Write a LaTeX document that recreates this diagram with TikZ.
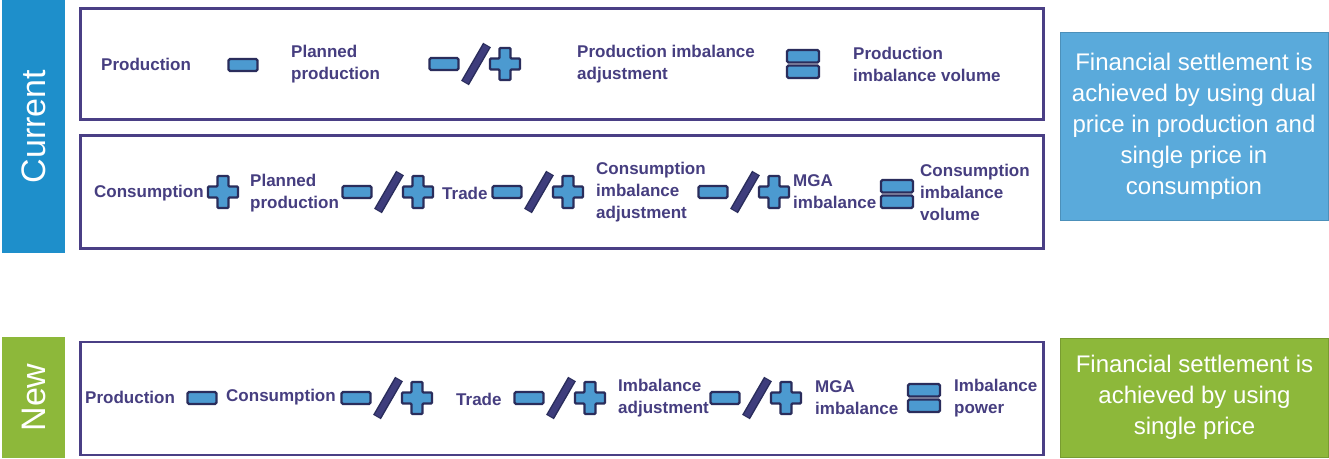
\documentclass[tikz,border=0pt]{standalone}
\usepackage{fontspec}
\setmainfont{Liberation Sans}
\usepackage{xcolor}
\usetikzlibrary{positioning}

\definecolor{txtpurple}{HTML}{463E80}
\definecolor{rowpurple}{HTML}{4A3F85}
\definecolor{curblue}{HTML}{1E8FCB}
\definecolor{noteblue}{HTML}{5AAADB}
\definecolor{newgreen}{HTML}{8DB83A}
\definecolor{symblue}{HTML}{4C9AD0}
\definecolor{symdark}{HTML}{2A2D5C}
\definecolor{slashcol}{HTML}{3E3D7C}

\tikzset{
  symline/.style={draw=symdark,fill=symblue,line width=2.2pt},
  minussign/.pic={\draw[symline,rounded corners=1.5pt] (-14.5,-6) rectangle (14.5,6);},
  plussign/.pic={\draw[symline,rounded corners=1pt] (-5.5,-16) -- (5.5,-16) -- (5.5,-5.5) -- (15,-5.5) -- (15,5.5) -- (5.5,5.5) -- (5.5,16) -- (-5.5,16) -- (-5.5,5.5) -- (-15,5.5) -- (-15,-5.5) -- (-5.5,-5.5) -- cycle;},
  slashsign/.pic={\draw[line width=9pt,symdark] (-11,19) -- (11,-19);
                  \draw[line width=6pt,slashcol] (-10.5,18) -- (10.5,-18);},
  eqsign/.pic={\draw[symline,rounded corners=1.5pt] (-16,-14) rectangle (16,-1.5);
               \draw[symline,rounded corners=1.5pt] (-16,1.5) rectangle (16,14);},
  pmsign/.pic={\pic at (-32,0) {minussign}; \pic at (0,0) {slashsign}; \pic at (29,0) {plussign};}
}

\begin{document}
\begin{tikzpicture}[x=1pt,y=-1pt,
  term/.style={anchor=west,align=left,inner sep=0pt,text=txtpurple,font=\bfseries\fontsize{17}{22}\selectfont},
  rowbox/.style={draw=rowpurple,line width=2.5pt,fill=white,minimum width=963pt},
  tagbox/.style={rotate=90,text=white,inner sep=0pt,minimum width=#1,minimum height=63pt,font=\fontsize{34}{36}\selectfont},
  notebox/.style={draw=#1!85!black,line width=0.6pt,fill=#1,text=white,align=center,minimum width=268pt,inner sep=0pt,font=\fontsize{24}{31}\selectfont}]
\useasboundingbox (0,0) rectangle (1329,458);

% left tags
\node[tagbox=253pt,fill=curblue] (curtag) at (33.5,126.5) {Current};
\node[tagbox=121pt,fill=newgreen] (newtag) at (33.5,397.5) {New};

% row frames
\node[rowbox,minimum height=111pt] (prodrow) at (562,64) {};
\node[rowbox,minimum height=113pt] (consrow) at (562,192) {};
\node[rowbox,minimum height=113pt] (newrow) at (562,398.5) {};

% notes on the right
\node[notebox=noteblue,minimum height=188pt] (curnote) at (1194,126) {Financial settlement is\\achieved by using dual\\price in production and\\single price in\\consumption};
\node[notebox=newgreen,minimum height=119pt] (newnote) at (1194.5,397.5) {Financial settlement is\\achieved by using\\single price};

% current: production
\node[term] (p1prod) at (101,64) {Production};
\pic at (243,65) {minussign};
\node[term] (p1plan) at (291,64) {Planned\\production};
\pic at (476,64) {pmsign};
\node[term] (p1adj) at (577,64) {Production imbalance\\adjustment};
\pic at (803,64) {eqsign};
\node[term] (p1vol) at (853,64) {Production\\imbalance volume};

% current: consumption
\node[term] (c2cons) at (94,193) {Consumption};
\pic at (223,192) {plussign};
\node[term] (c2plan) at (250,193) {Planned\\production};
\pic at (389,192) {pmsign};
\node[term] (c2trade) at (442,193) {Trade};
\pic at (539,192) {pmsign};
\node[term] (c2adj) at (596,192) {Consumption\\imbalance\\adjustment};
\pic at (745,192) {pmsign};
\node[term] (c2mga) at (793,192) {MGA\\imbalance};
\pic at (897,194) {eqsign};
\node[term] (c2vol) at (920,192) {Consumption\\imbalance\\volume};

% new model
\node[term] (n3prod) at (85,397) {Production};
\pic at (202,398) {minussign};
\node[term] (n3cons) at (226,397) {Consumption};
\pic at (388,398) {pmsign};
\node[term] (n3trade) at (456,399) {Trade};
\pic at (561,398) {pmsign};
\node[term] (n3adj) at (618,398) {Imbalance\\adjustment};
\pic at (757,398) {pmsign};
\node[term] (n3mga) at (815,398) {MGA\\imbalance};
\pic at (924,398) {eqsign};
\node[term] (n3pow) at (954,398) {Imbalance\\power};

\end{tikzpicture}
\end{document}
